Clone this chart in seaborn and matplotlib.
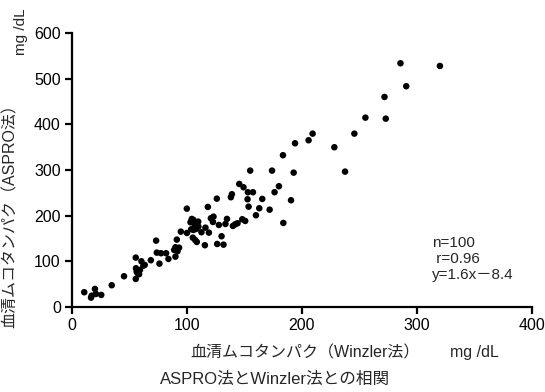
import matplotlib
matplotlib.use("Agg")
import matplotlib.pyplot as plt
import pandas as pd
import seaborn as sns

# Winzler method (x) vs ASPRO method (y), mg/dL
winzler = [
    10.7, 16.6, 17.2, 20.0, 20.9, 25.5, 34.6, 45.3, 55.5, 55.7,
    56.3, 55.5, 58.4, 59.2, 60.4, 62.1, 63.3, 68.6, 73.2, 73.8,
    76.1, 77.5, 81.9, 83.9, 88.9, 90.0, 91.2, 91.8, 90.0, 93.2,
    94.7, 99.9, 103.1, 104.2, 105.7, 106.3, 103.7, 105.7, 108.0, 109.8,
    105.1, 107.1, 108.6, 112.6, 115.6, 116.1, 119.1, 118.2, 120.8, 122.6,
    123.1, 126.0, 126.3, 127.8, 130.1, 131.8, 133.5, 134.8, 138.2, 139.1,
    140.0, 142.0, 144.0, 145.5, 149.2, 148.1, 150.7, 153.0, 152.7, 153.6,
    155.0, 157.4, 160.0, 162.9, 165.5, 171.9, 174.0, 176.2, 180.0, 183.8,
    190.5, 192.8, 183.5, 194.0, 205.8, 209.3, 228.2, 237.5, 245.6, 255.2,
    272.9, 271.8, 290.7, 285.7, 320.0, 104.0, 107.0, 110.0, 57.0, 100.0,
]
aspro = [
    32.2, 20.4, 24.7, 39.4, 28.5, 26.3, 47.5, 67.2, 108.0, 84.7,
    77.3, 61.3, 71.6, 81.0, 100.0, 90.4, 92.0, 102.3, 145.2, 118.9,
    94.8, 117.6, 117.6, 105.1, 124.8, 130.7, 147.4, 122.0, 110.1, 129.8,
    164.9, 215.2, 185.4, 192.7, 190.5, 183.3, 170.1, 168.6, 170.8, 186.8,
    151.7, 146.7, 142.3, 163.6, 135.1, 173.6, 162.7, 219.0, 194.2, 186.1,
    197.7, 237.1, 137.9, 179.5, 154.8, 136.4, 181.7, 192.7, 240.2, 246.8,
    177.4, 181.0, 183.3, 269.3, 262.1, 192.0, 188.3, 251.2, 235.8, 219.6,
    298.5, 251.2, 200.8, 216.1, 236.5, 213.0, 298.5, 251.2, 264.3, 183.9,
    233.6, 294.1, 332.2, 358.4, 365.0, 379.5, 349.7, 296.3, 379.5, 414.5,
    412.3, 459.8, 483.3, 533.6, 527.7, 188.0, 178.0, 176.0, 74.0, 162.0,
]
x_ticks = [0, 100, 200, 300, 400]
y_ticks = [0, 100, 200, 300, 400, 500, 600]
stats_text = "n=100\n r=0.96\ny=1.6x\uff0d8.4"

df = pd.DataFrame({"winzler": winzler, "aspro": aspro})

sns.set_style("ticks")
plt.rcParams["font.family"] = ["Liberation Sans", "Noto Sans CJK JP", "DejaVu Sans"]

fig = plt.figure(figsize=(5.45, 3.92), dpi=100)
ax = fig.add_axes([0.132, 0.217, 0.844, 0.699])

sns.scatterplot(data=df, x="winzler", y="aspro", color="black", s=22,
                edgecolor="none", ax=ax)

ax.set_xlim(0, 400)
ax.set_ylim(0, 600)
ax.set_xticks(x_ticks)
ax.set_yticks(y_ticks)
ax.set_xlabel("")
ax.set_ylabel("")
for side in ["top", "right"]:
    ax.spines[side].set_visible(False)
for side in ["left", "bottom"]:
    ax.spines[side].set_linewidth(1.6)
    ax.spines[side].set_color("black")
ax.tick_params(axis="both", length=5, width=1.6, labelsize=11.5, pad=3,
               colors="black")

ax.text(313, 105, stats_text, fontsize=11, va="center", ha="left",
        linespacing=1.15)

fig.text(0.019, 1 - 212 / 392, "血清ムコタンパク（ASPRO法）", rotation=90,
         ha="center", va="center", fontsize=11.5)
fig.text(0.038, 1 - 32 / 392, "mg /dL", rotation=90, ha="center",
         va="center", fontsize=11)
fig.text(305 / 545, 1 - 353 / 392, "血清ムコタンパク（Winzler法）",
         ha="center", va="center", fontsize=11.5)
fig.text(474 / 545, 1 - 353 / 392, "mg /dL", ha="center", va="center",
         fontsize=11.5)
fig.text(275 / 545, 1 - 379 / 392, "ASPRO法とWinzler法との相関",
         ha="center", va="center", fontsize=12)

fig.savefig("out.png", dpi=100)
